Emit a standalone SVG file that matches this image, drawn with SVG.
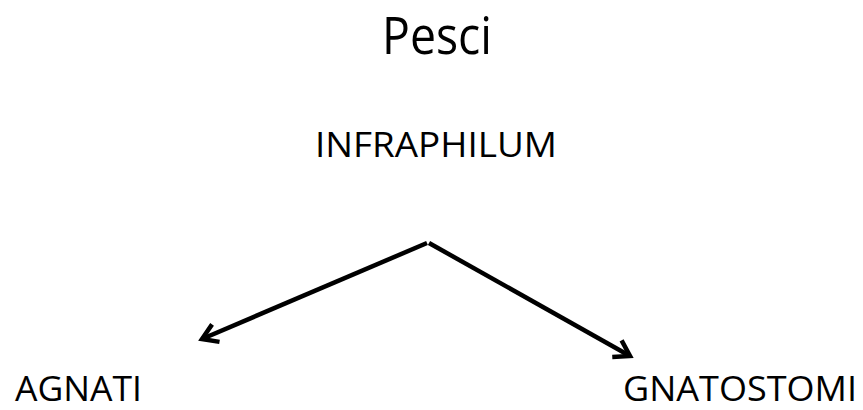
<svg xmlns="http://www.w3.org/2000/svg" width="863" height="410" viewBox="0 0 863 410">
  <style>
    text { font-family: "Open Sans", "Noto Sans", "Liberation Sans", sans-serif; fill: #000; }
    .lbl { font-size: 35px; }
    .title { font-size: 51px; }
    .conn { stroke: #000; stroke-width: 4.5; fill: none; }
  </style>
  <defs>
    <marker id="open" markerUnits="userSpaceOnUse" markerWidth="30" markerHeight="30" refX="18" refY="12" orient="auto" overflow="visible">
      <path d="M3,2.5 L18,12 L3,21.5" fill="none" stroke="#000" stroke-width="4.5" stroke-linejoin="miter" stroke-linecap="butt"/>
    </marker>
  </defs>
  <rect width="863" height="410" fill="#fff"/>
  <g id="title">
    <text class="title" x="382" y="54" textLength="110" lengthAdjust="spacingAndGlyphs">Pesci</text>
  </g>
  <g id="infraphilum">
    <text class="lbl" x="315" y="157" textLength="242" lengthAdjust="spacingAndGlyphs">INFRAPHILUM</text>
  </g>
  <g id="agnati">
    <text class="lbl" x="15" y="401" textLength="127" lengthAdjust="spacingAndGlyphs">AGNATI</text>
  </g>
  <g id="gnatostomi">
    <text class="lbl" x="623" y="401" textLength="234" lengthAdjust="spacingAndGlyphs">GNATOSTOMI</text>
  </g>
  <g id="connectors">
    <line class="conn" x1="427" y1="243" x2="202" y2="339" marker-end="url(#open)"/>
    <line class="conn" x1="429" y1="243" x2="630" y2="356" marker-end="url(#open)"/>
  </g>
</svg>
